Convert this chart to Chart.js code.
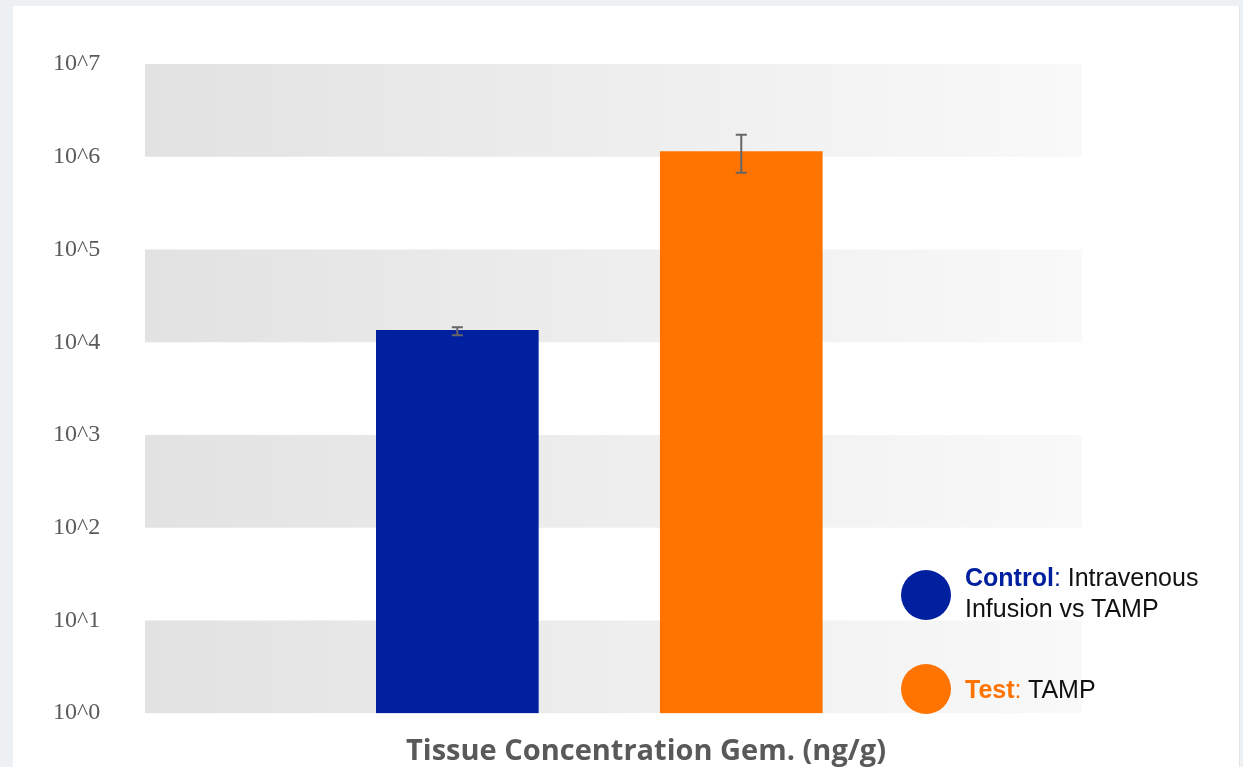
<!DOCTYPE html>
<html lang="en">
<head>
    <meta charset="UTF-8">
    <title>Tissue Concentration Gem.</title>
    <script src="https://cdn.jsdelivr.net/npm/chart.js"></script>
    <style>
        html, body {
            margin: 0;
            padding: 0;
            width: 1243px;
            height: 767px;
            overflow: hidden;
            background-color: #eef1f4;
        }
        .card {
            position: absolute;
            left: 13px;
            top: 6px;
            width: 1226px;
            height: 761px;
            background-color: #ffffff;
            border-right: 1px solid #e2e4e8;
        }
        #chart {
            position: absolute;
            left: 0;
            top: 0;
        }
        .legend {
            position: absolute;
            left: 901px;
            top: 0;
            font-family: "Liberation Sans", Arial, sans-serif;
            font-size: 25px;
            color: #111;
        }
        .legend .item {
            position: absolute;
            left: 0;
            width: 330px;
        }
        .legend .dot {
            position: absolute;
            left: 0;
            width: 50px;
            height: 50px;
            border-radius: 50%;
        }
        .legend .txt {
            position: absolute;
            left: 64px;
            line-height: 31px;
            white-space: nowrap;
        }
        .legend b { font-weight: bold; }
    </style>
</head>
<body>
    <div class="card"></div>
    <canvas id="chart" width="1243" height="767"></canvas>
    <div class="legend" id="legend"></div>

    <script>
        // data
        const categories = ['Control', 'Test'];
        const descriptions = [['Intravenous', 'Infusion vs TAMP'], ['TAMP']];
        const values = [13400, 1140000];
        const errLow = [11900, 672000];
        const errHigh = [14500, 1730000];
        const tickValues = [1, 10, 100, 1000, 10000, 100000, 1000000, 10000000];
        const tickLabels = ['10^0', '10^1', '10^2', '10^3', '10^4', '10^5', '10^6', '10^7'];
        const colors = ['#00209f', '#ff7300'];

        // grey bands behind every other decade
        const bandsPlugin = {
            id: 'bands',
            beforeDatasetsDraw(chart) {
                const { ctx, chartArea, scales } = chart;
                const y = scales.y;
                const grad = ctx.createLinearGradient(chartArea.left, 0, chartArea.right, 0);
                grad.addColorStop(0, '#e2e2e2');
                grad.addColorStop(1, '#f9f9f9');
                ctx.save();
                ctx.fillStyle = grad;
                for (let i = 0; i + 1 < tickValues.length; i += 2) {
                    const top = y.getPixelForValue(tickValues[i + 1]);
                    const bottom = y.getPixelForValue(tickValues[i]);
                    ctx.fillRect(chartArea.left, top, chartArea.right - chartArea.left, bottom - top);
                }
                ctx.restore();
            }
        };

        // simple error bars
        const errorBarsPlugin = {
            id: 'errorBars',
            afterDatasetsDraw(chart) {
                const { ctx, scales } = chart;
                const meta = chart.getDatasetMeta(0);
                ctx.save();
                ctx.strokeStyle = '#666666';
                ctx.lineWidth = 2;
                meta.data.forEach((bar, i) => {
                    const yHi = scales.y.getPixelForValue(errHigh[i]);
                    const yLo = scales.y.getPixelForValue(errLow[i]);
                    ctx.beginPath();
                    ctx.moveTo(bar.x, yHi);
                    ctx.lineTo(bar.x, yLo);
                    ctx.moveTo(bar.x - 5.5, yHi);
                    ctx.lineTo(bar.x + 5.5, yHi);
                    ctx.moveTo(bar.x - 5.5, yLo);
                    ctx.lineTo(bar.x + 5.5, yLo);
                    ctx.stroke();
                });
                ctx.restore();
            }
        };

        new Chart(document.getElementById('chart'), {
            type: 'bar',
            data: {
                datasets: [{
                    label: 'Tissue Concentration Gem. (ng/g)',
                    data: values.map((v, i) => ({ x: i + 1, y: v })),
                    backgroundColor: colors,
                    borderWidth: 0,
                    barThickness: 162
                }]
            },
            plugins: [bandsPlugin, errorBarsPlugin],
            options: {
                responsive: false,
                devicePixelRatio: 1,
                animation: false,
                layout: { padding: { left: 53, right: 4, top: 64, bottom: 0 } },
                scales: {
                    x: {
                        type: 'linear',
                        offset: false,
                        min: -0.1,
                        max: 3.2,
                        display: false
                    },
                    y: {
                        type: 'logarithmic',
                        position: 'left',
                        min: 1,
                        max: 10000000,
                        grid: { display: false },
                        border: { display: false },
                        afterBuildTicks(scale) {
                            scale.ticks = tickValues.map(v => ({ value: v }));
                        },
                        afterFit(scale) {
                            scale.width = 92;
                        },
                        ticks: {
                            crossAlign: 'far',
                            color: '#5a5a5a',
                            font: { family: '"Liberation Serif", "Times New Roman", serif', size: 24 },
                            callback(value) {
                                const k = tickValues.indexOf(value);
                                return k >= 0 ? tickLabels[k] : '';
                            }
                        }
                    },
                    // empty axis only to keep room for the legend at the right
                    yr: {
                        type: 'linear',
                        position: 'right',
                        grid: { display: false },
                        border: { display: false },
                        ticks: { display: false },
                        afterFit(scale) {
                            scale.width = 157;
                        }
                    }
                },
                plugins: {
                    legend: { display: false },
                    tooltip: { enabled: false },
                    title: {
                        display: true,
                        position: 'bottom',
                        text: 'Tissue Concentration Gem. (ng/g)',
                        color: '#595959',
                        font: { family: '"Open Sans", sans-serif', size: 29, weight: 'bold', lineHeight: 1.2 },
                        padding: { top: 21, bottom: -2 }
                    }
                }
            }
        });

        // legend built from the same arrays
        const legendTops = [570, 664];
        const legend = document.getElementById('legend');
        categories.forEach((name, i) => {
            const item = document.createElement('div');
            item.className = 'item';
            item.style.top = legendTops[i] + 'px';
            const dot = document.createElement('div');
            dot.className = 'dot';
            dot.style.background = colors[i];
            item.appendChild(dot);
            const txt = document.createElement('div');
            txt.className = 'txt';
            const lines = descriptions[i];
            txt.style.top = (25 - lines.length * 31 / 2 + (lines.length > 1 ? -2 : 0)) + 'px';
            txt.innerHTML = '<span style="color:' + colors[i] + '"><b>' + name + '</b>:</span> ' + lines.join('<br>');
            item.appendChild(txt);
            legend.appendChild(item);
        });
    </script>
</body>
</html>
